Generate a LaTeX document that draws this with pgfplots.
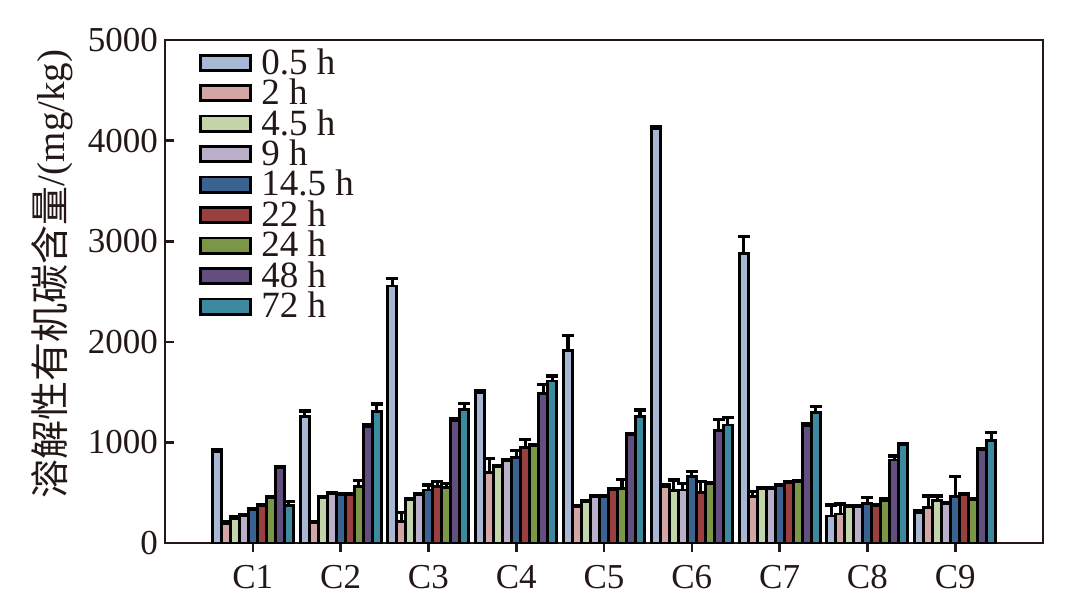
\documentclass[border=0pt]{standalone}
\usepackage{pgfplots}
\pgfplotsset{compat=1.18}
\usepackage{pgfplotstable}
\usepackage{fontspec}
\setmainfont{Liberation Serif}
\newfontfamily\cjk{Noto Sans CJK SC}
\definecolor{c1}{HTML}{A8B7D4}
\definecolor{c2}{HTML}{D4A5A5}
\definecolor{c3}{HTML}{C3D3AA}
\definecolor{c4}{HTML}{B9AFC8}
\definecolor{c5}{HTML}{3B6392}
\definecolor{c6}{HTML}{9A3F40}
\definecolor{c7}{HTML}{7C9648}
\definecolor{c8}{HTML}{634E80}
\definecolor{c9}{HTML}{3D899E}
\definecolor{axc}{HTML}{231815}
\pgfplotstableread{
x y e
1 910 20
2 1256 56
3 2555 76
4 1500 15
5 1918 146
6 4120 20
7 2880 165
8 268 110
9 305 15
}\ta
\pgfplotstableread{
x y e
1 196 15
2 202 10
3 212 93
4 699 143
5 361 15
6 560 20
7 460 50
8 288 100
9 355 112
}\tb
\pgfplotstableread{
x y e
1 245 15
2 454 10
3 427 10
4 758 10
5 411 10
6 520 106
7 544 10
8 361 10
9 421 46
}\tc
\pgfplotstableread{
x y e
1 268 15
2 487 10
3 484 10
4 818 10
5 460 10
6 527 66
7 544 10
8 361 10
9 388 10
}\td
\pgfplotstableread{
x y e
1 328 10
2 484 10
3 527 50
4 852 66
5 460 10
6 659 50
7 567 10
8 394 60
9 460 199
}\te
\pgfplotstableread{
x y e
1 371 10
2 484 10
3 560 50
4 948 83
5 534 10
6 500 110
7 600 10
8 368 10
9 484 10
}\tf
\pgfplotstableread{
x y e
1 447 10
2 560 60
3 553 40
4 968 10
5 544 89
6 593 10
7 610 10
8 421 20
9 434 10
}\tg
\pgfplotstableread{
x y e
1 752 10
2 1156 20
3 1213 20
4 1488 89
5 1080 10
6 1117 112
7 1166 20
8 825 40
9 931 10
}\th
\pgfplotstableread{
x y e
1 371 39
2 1305 77
3 1329 59
4 1610 50
5 1256 66
6 1173 76
7 1299 56
8 974 10
9 1017 83
}\ti
\begin{document}
\begin{tikzpicture}
\useasboundingbox (-82.5pt,-33.5pt) rectangle (462.5pt,271.5pt);
\begin{axis}[
  at={(0,0)}, anchor=south west,
  scale only axis,
  width=439pt, height=251.5pt,
  xmin=0, xmax=10, ymin=0, ymax=5000,
  ybar=0pt, bar width=4.5pt,
  xtick={1,...,9},
  xticklabels={C1,C2,C3,C4,C5,C6,C7,C8,C9},
  ytick={0,1000,...,5000},
  scaled y ticks=false,
  /pgf/number format/assume math mode=true,
  /pgf/number format/set thousands separator={},
  tick label style={font=\fontsize{17.5}{20}\selectfont, text=axc},
  axis line style={draw=axc, line width=1.1pt},
  xtick pos=bottom, ytick pos=left,
  xtick style={draw=axc, line width=1.3pt},
  ytick style={draw=axc, line width=1.3pt},
  x tick label style={yshift=-3pt},
  major tick length=4.5pt,
  xtick align=outside, ytick align=inside,
  ylabel={{\cjk 溶解性有机碳含量}/(mg/kg)},
  ylabel style={font=\fontsize{19.5}{20}\selectfont, text=axc, at={(axis description cs:-0.1287,0.535)}, anchor=center},
  legend style={at={(14pt,251pt)}, anchor=north west, draw=none, fill=none,
    font=\fontsize{18.5}{15}\selectfont, text=axc,
    row sep=-2.1pt,
    nodes={inner sep=1.5pt}},
  legend cell align=left,
  legend image code/.code={\draw[#1, draw=black, line width=1.4pt] (0pt,-3.8pt) rectangle (25pt,3.8pt);},
  every axis plot/.append style={draw=black, line width=1.45pt,
    error bars/y dir=plus, error bars/y explicit,
    error bars/error bar style={line width=1.6pt, black},
    error bars/error mark options={line width=1.6pt, black, mark size=3pt, rotate=90}},
]
\addplot[fill=c1] table[x=x,y=y,y error=e]{\ta};
\addplot[fill=c2] table[x=x,y=y,y error=e]{\tb};
\addplot[fill=c3] table[x=x,y=y,y error=e]{\tc};
\addplot[fill=c4] table[x=x,y=y,y error=e]{\td};
\addplot[fill=c5] table[x=x,y=y,y error=e]{\te};
\addplot[fill=c6] table[x=x,y=y,y error=e]{\tf};
\addplot[fill=c7] table[x=x,y=y,y error=e]{\tg};
\addplot[fill=c8] table[x=x,y=y,y error=e]{\th};
\addplot[fill=c9] table[x=x,y=y,y error=e]{\ti};
\legend{\,0.5 h,\,2 h,\,4.5 h,\,9 h,\,14.5 h,\,22 h,\,24 h,\,48 h,\,72 h}
\end{axis}
\end{tikzpicture}
\end{document}
